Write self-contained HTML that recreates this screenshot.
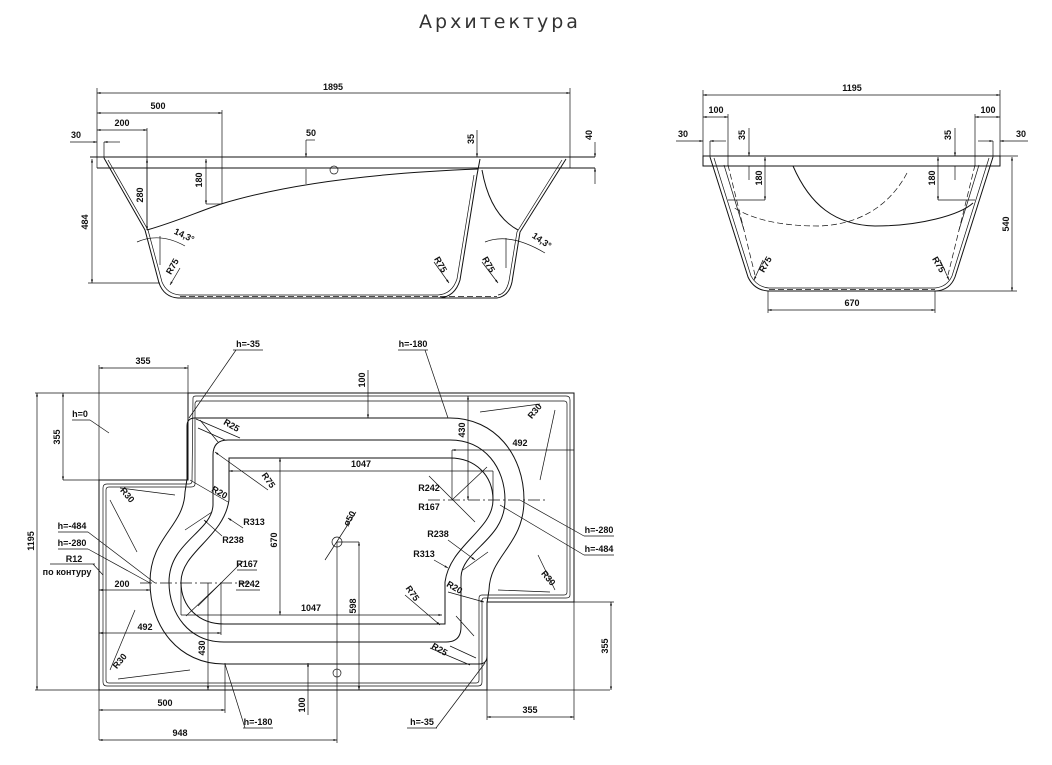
<!DOCTYPE html>
<html><head><meta charset="utf-8"><style>
html,body{margin:0;padding:0;background:#fff;}
svg{display:block}
text{font-family:"Liberation Sans Narrow","Liberation Sans",sans-serif;font-size:9px;font-weight:bold;fill:#111}
.l{stroke:#111;stroke-width:1;fill:none}
.t{stroke:#111;stroke-width:0.7;fill:none}
.d{stroke:#111;stroke-width:0.7;fill:none;stroke-dasharray:6 3}
.c{stroke:#111;stroke-width:0.7;fill:none;stroke-dasharray:12 3 2 3}
</style></head><body>
<svg width="1052" height="765" viewBox="0 0 1052 765" xmlns="http://www.w3.org/2000/svg">
<defs>
<marker id="a" viewBox="0 0 10 10" refX="10" refY="5" markerWidth="7" markerHeight="5" orient="auto-start-reverse"><path d="M0,2 L10,5 L0,8z" fill="#111"/></marker>
</defs>
<text x="500" y="28" text-anchor="middle" style="font-family:'DejaVu Sans',sans-serif;font-size:19px;font-weight:normal;letter-spacing:3px;fill:#333">Архитектура</text>

<!-- ============ FRONT SIDE VIEW ============ -->
<g>
<line class="l" x1="90" y1="157" x2="595" y2="157"/>
<line class="l" x1="97" y1="168" x2="595" y2="168"/>
<line class="t" x1="97" y1="157" x2="97" y2="168"/>
<line class="t" x1="570" y1="157" x2="570" y2="168"/>
<path class="l" d="M104,158 L145,230 L159,283 Q164,297 178,298 L439,298 Q455,297 460,280 L477,175 L480,159"/>
<path class="t" d="M108,160 L148,230 L162,282 Q167,294 180,295 L438,295 Q452,294 457,279 L474,175"/>
<path class="d" d="M180,296.5 L438,296.5"/>
<path class="l" d="M439,298 L497,298 Q509,296 512,282 L520,232 L566,159"/>
<path class="t" d="M498,295 Q506,294 509,281 L517,232 L562,160"/>
<path class="d" d="M440,296.5 L497,296.5"/>
<path class="l" d="M482,170 Q490,215 518,230"/>
<path class="l" d="M147,230 C175,222 195,213 221,204 C300,180 400,172 478,169"/>
<line class="t" x1="97" y1="88" x2="97" y2="157"/>
<line class="t" x1="570" y1="88" x2="570" y2="157"/>
<line class="t" x1="97" y1="93" x2="570" y2="93" marker-start="url(#a)" marker-end="url(#a)"/>
<text x="333" y="90" text-anchor="middle">1895</text>
<line class="t" x1="97" y1="113" x2="222" y2="113" marker-start="url(#a)" marker-end="url(#a)"/>
<line class="t" x1="222" y1="110" x2="222" y2="204"/>
<text x="158" y="109" text-anchor="middle">500</text>
<line class="t" x1="97" y1="130" x2="147" y2="130" marker-start="url(#a)" marker-end="url(#a)"/>
<line class="t" x1="147" y1="128" x2="147" y2="230"/>
<text x="122" y="126" text-anchor="middle">200</text>
<line class="t" x1="147" y1="159" x2="147" y2="230" marker-start="url(#a)" marker-end="url(#a)"/>
<text transform="translate(143,195) rotate(-90)" text-anchor="middle">280</text>
<line class="t" x1="206" y1="159" x2="206" y2="204" marker-start="url(#a)" marker-end="url(#a)"/>
<line class="t" x1="206" y1="204" x2="222" y2="204"/>
<text transform="translate(202,180) rotate(-90)" text-anchor="middle">180</text>
<line class="t" x1="88" y1="283" x2="160" y2="283"/>
<line class="t" x1="92" y1="159" x2="92" y2="283" marker-start="url(#a)" marker-end="url(#a)"/>
<text transform="translate(88,222) rotate(-90)" text-anchor="middle">484</text>
<line class="t" x1="70" y1="142" x2="97" y2="142" marker-end="url(#a)"/>
<line class="t" x1="120" y1="142" x2="104" y2="142" marker-end="url(#a)"/>
<line class="t" x1="104" y1="142" x2="104" y2="158"/>
<text x="76" y="138" text-anchor="middle">30</text>
<line class="t" x1="306" y1="140" x2="306" y2="157" marker-end="url(#a)"/>
<line class="t" x1="306" y1="140" x2="315" y2="140"/>
<line class="t" x1="306" y1="169" x2="306" y2="184"/>
<text x="311" y="136" text-anchor="middle">50</text>
<circle class="t" cx="334" cy="170" r="4"/>
<line class="t" x1="477" y1="130" x2="477" y2="157" marker-end="url(#a)"/>
<text transform="translate(474,139) rotate(-90)" text-anchor="middle">35</text>
<line class="t" x1="595" y1="142" x2="595" y2="157" marker-end="url(#a)"/>
<line class="t" x1="595" y1="184" x2="595" y2="168" marker-end="url(#a)"/>
<text transform="translate(592,135) rotate(-90)" text-anchor="middle">40</text>
<path class="t" d="M137,242 Q160,232 185,246"/>
<line class="t" x1="160" y1="236" x2="160" y2="265"/>
<text transform="translate(183,238) rotate(25)" text-anchor="middle">14,3°</text>
<path class="t" d="M485,242 Q510,232 545,253"/>
<line class="t" x1="506" y1="238" x2="506" y2="268"/>
<text transform="translate(540,243) rotate(35)" text-anchor="middle">14,3°</text>
<line class="t" x1="180" y1="268" x2="170" y2="285" marker-end="url(#a)"/>
<text transform="translate(175,268) rotate(-60)" text-anchor="middle">R75</text>
<line class="t" x1="434" y1="262" x2="449" y2="283" marker-end="url(#a)"/>
<text transform="translate(438,266) rotate(60)" text-anchor="middle">R75</text>
<line class="t" x1="482" y1="262" x2="498" y2="283" marker-end="url(#a)"/>
<text transform="translate(486,266) rotate(60)" text-anchor="middle">R75</text>
</g>

<!-- ============ END SIDE VIEW ============ -->
<g>
<rect class="l" x="703" y="156" width="297" height="10"/>
<line class="t" x1="1000" y1="156" x2="1018" y2="156"/>
<path class="l" d="M710,157 L748,277 Q754,290 768,291 L936,291 Q950,290 955,277 L993,157"/>
<path class="t" d="M714,158 L751,276 Q757,287 769,288 L935,288 Q947,287 952,276 L989,158"/>
<path class="d" d="M728,165 L755,275"/>
<path class="d" d="M975,165 L948,275"/>
<path class="t" d="M724,165 L744,230"/>
<path class="t" d="M979,165 L959,230"/>
<path class="d" d="M769,289.5 L935,289.5"/>
<path class="l" d="M793,166 C810,205 835,225 875,226 C920,226 960,215 973,203"/>
<path class="d" d="M907,173 C890,205 860,225 818,226 C770,226 745,215 733,207"/>
<line class="t" x1="703" y1="90" x2="703" y2="156"/>
<line class="t" x1="1000" y1="90" x2="1000" y2="156"/>
<line class="t" x1="703" y1="95" x2="1000" y2="95" marker-start="url(#a)" marker-end="url(#a)"/>
<text x="852" y="91" text-anchor="middle">1195</text>
<line class="t" x1="728" y1="114" x2="728" y2="166"/>
<line class="t" x1="703" y1="117" x2="728" y2="117" marker-start="url(#a)" marker-end="url(#a)"/>
<text x="716" y="113" text-anchor="middle">100</text>
<line class="t" x1="975" y1="114" x2="975" y2="166"/>
<line class="t" x1="975" y1="117" x2="1000" y2="117" marker-start="url(#a)" marker-end="url(#a)"/>
<text x="988" y="113" text-anchor="middle">100</text>
<line class="t" x1="676" y1="141" x2="703" y2="141" marker-end="url(#a)"/>
<line class="t" x1="726" y1="141" x2="710" y2="141" marker-end="url(#a)"/>
<line class="t" x1="710" y1="141" x2="710" y2="157"/>
<text x="683" y="137" text-anchor="middle">30</text>
<line class="t" x1="1028" y1="141" x2="1000" y2="141" marker-end="url(#a)"/>
<line class="t" x1="978" y1="141" x2="993" y2="141" marker-end="url(#a)"/>
<line class="t" x1="993" y1="141" x2="993" y2="157"/>
<text x="1021" y="137" text-anchor="middle">30</text>
<line class="t" x1="749" y1="128" x2="749" y2="156" marker-end="url(#a)"/>
<line class="t" x1="749" y1="166" x2="749" y2="180"/>
<text transform="translate(745,135) rotate(-90)" text-anchor="middle">35</text>
<line class="t" x1="955" y1="128" x2="955" y2="156" marker-end="url(#a)"/>
<line class="t" x1="955" y1="166" x2="955" y2="180"/>
<text transform="translate(951,135) rotate(-90)" text-anchor="middle">35</text>
<line class="t" x1="765" y1="157" x2="765" y2="200" marker-start="url(#a)" marker-end="url(#a)"/>
<line class="t" x1="728" y1="200" x2="765" y2="200"/>
<text transform="translate(762,178) rotate(-90)" text-anchor="middle">180</text>
<line class="t" x1="938" y1="157" x2="938" y2="200" marker-start="url(#a)" marker-end="url(#a)"/>
<line class="t" x1="938" y1="200" x2="975" y2="200"/>
<text transform="translate(935,178) rotate(-90)" text-anchor="middle">180</text>
<line class="t" x1="936" y1="291" x2="1017" y2="291"/>
<line class="t" x1="1012" y1="157" x2="1012" y2="291" marker-start="url(#a)" marker-end="url(#a)"/>
<text transform="translate(1009,224) rotate(-90)" text-anchor="middle">540</text>
<line class="t" x1="768" y1="291" x2="768" y2="313"/>
<line class="t" x1="935" y1="291" x2="935" y2="313"/>
<line class="t" x1="768" y1="310" x2="935" y2="310" marker-start="url(#a)" marker-end="url(#a)"/>
<text x="852" y="306" text-anchor="middle">670</text>
<line class="t" x1="763" y1="260" x2="754" y2="280" marker-end="url(#a)"/>
<text transform="translate(768,266) rotate(-60)" text-anchor="middle">R75</text>
<line class="t" x1="940" y1="260" x2="949" y2="280" marker-end="url(#a)"/>
<text transform="translate(936,266) rotate(60)" text-anchor="middle">R75</text>
</g>

<!-- ============ PLAN VIEW ============ -->
<g>
<path class="l" d="M188,393 L574,393 L574,602 L487,602 L487,690 L99,690 L99,480 L188,480 Z"/>
<path class="t" d="M193,398 Q193,396 196,396 L566,396 Q570,396 570,400 L570,595 Q570,598 566,598 L484,598 Q482,598 482,601 L482,682 Q482,686 478,686 L107,686 Q103,686 103,682 L103,488 Q103,484 107,484 L189,484 Q192,484 192,481 Z"/>
<path class="t" d="M196,401 L564,401 Q567,401 567,404 L567,592 Q567,595 564,595 L482,595 Q479,595 479,598 L479,680 Q479,683 476,683 L109,683 Q106,683 106,680 L106,490 Q106,487 109,487 L191,487 Q195,487 195,484 L195,404 Q195,401 198,401"/>
<path class="l" d="M187,480 L187,426 Q187,418 195,418 L450,418 C495,418 524,455 524,500 C524,545 490,555 489,590 L487,603"/>
<path class="l" transform="rotate(180 337 541)" d="M187,480 L187,426 Q187,418 195,418 L450,418 C495,418 524,455 524,500 C524,545 490,555 489,590 L487,603"/>
<path class="l" d="M213,505 L213,455 Q213,440 228,440 L450,440 C485,440 505,468 505,500 C505,540 462,550 461,577"/>
<path class="l" transform="rotate(180 337 541)" d="M213,505 L213,455 Q213,440 228,440 L450,440 C485,440 505,468 505,500 C505,540 462,550 461,577"/>
<path class="l" d="M229,500 L229,458 L450,458 C475,458 493,475 493,500 C493,530 450,545 445,582"/>
<path class="l" transform="rotate(180 337 541)" d="M229,500 L229,458 L450,458 C475,458 493,475 493,500 C493,530 450,545 445,582"/>
<g class="t">
<line x1="480" y1="412" x2="540" y2="404"/><line x1="555" y1="410" x2="540" y2="480"/>
<line x1="538" y1="555" x2="555" y2="590"/><line x1="498" y1="590" x2="550" y2="592"/>
<line x1="120" y1="488" x2="175" y2="495"/><line x1="110" y1="500" x2="137" y2="552"/>
<line x1="135" y1="610" x2="110" y2="670"/><line x1="118" y1="679" x2="190" y2="670"/>
<line x1="200" y1="420" x2="218" y2="442"/><line x1="212" y1="512" x2="185" y2="530"/>
<line x1="474" y1="636" x2="456" y2="616"/><line x1="463" y1="570" x2="488" y2="552"/>
<line x1="198" y1="428" x2="225" y2="440"/><line x1="476" y1="658" x2="450" y2="646"/>
</g>
<line class="c" x1="428" y1="500" x2="545" y2="500"/>
<line class="c" x1="140" y1="583" x2="250" y2="583"/>
<line class="t" x1="429" y1="476" x2="475" y2="522"/>
<line class="t" x1="452" y1="500" x2="487" y2="467"/>
<line class="t" x1="198" y1="606" x2="243" y2="561"/>
<line class="t" x1="221" y1="583" x2="186" y2="616"/>
<circle class="t" cx="337" cy="542" r="5"/>
<circle class="t" cx="337" cy="673" r="4"/>
<line class="t" x1="325" y1="560" x2="356" y2="512"/>
<text transform="translate(352,520) rotate(-60)" text-anchor="middle">ø50</text>
<line class="t" x1="337" y1="542" x2="337" y2="743"/>
<line class="t" x1="337" y1="542" x2="359" y2="542"/>
<line class="t" x1="359" y1="542" x2="359" y2="690" marker-start="url(#a)" marker-end="url(#a)"/>
<text transform="translate(356,606) rotate(-90)" text-anchor="middle">598</text>
<line class="t" x1="99" y1="365" x2="99" y2="740"/>
<line class="t" x1="188" y1="365" x2="188" y2="393"/>
<line class="t" x1="99" y1="368" x2="188" y2="368" marker-start="url(#a)" marker-end="url(#a)"/>
<text x="143" y="364" text-anchor="middle">355</text>
<line class="t" x1="35" y1="393" x2="188" y2="393"/>
<line class="t" x1="35" y1="690" x2="610" y2="690"/>
<line class="t" x1="37" y1="393" x2="37" y2="690" marker-start="url(#a)" marker-end="url(#a)"/>
<text transform="translate(34,541) rotate(-90)" text-anchor="middle">1195</text>
<line class="t" x1="63" y1="393" x2="63" y2="480" marker-start="url(#a)" marker-end="url(#a)"/>
<line class="t" x1="63" y1="480" x2="188" y2="480"/>
<text transform="translate(60,437) rotate(-90)" text-anchor="middle">355</text>
<text x="80" y="417" text-anchor="middle">h=0</text>
<line class="t" x1="72" y1="420" x2="90" y2="420"/><line class="t" x1="90" y1="420" x2="109" y2="433"/>
<line class="t" x1="368" y1="370" x2="368" y2="418" marker-end="url(#a)"/>
<text transform="translate(365,380) rotate(-90)" text-anchor="middle">100</text>
<text x="248" y="347" text-anchor="middle">h=-35</text>
<line class="t" x1="233" y1="350" x2="263" y2="350"/><line class="t" x1="236" y1="350" x2="189" y2="418"/>
<text x="413" y="347" text-anchor="middle">h=-180</text>
<line class="t" x1="398" y1="350" x2="428" y2="350"/><line class="t" x1="425" y1="350" x2="448" y2="418"/>
<line class="t" x1="468" y1="396" x2="468" y2="500" marker-start="url(#a)" marker-end="url(#a)"/>
<text transform="translate(465,430) rotate(-90)" text-anchor="middle">430</text>
<line class="t" x1="452" y1="450" x2="574" y2="450" marker-start="url(#a)"/>
<line class="t" x1="452" y1="450" x2="452" y2="500"/>
<text x="520" y="446" text-anchor="middle">492</text>
<line class="t" x1="229" y1="471" x2="493" y2="471" marker-start="url(#a)"/>
<line class="t" x1="493" y1="471" x2="493" y2="500"/>
<text x="361" y="467" text-anchor="middle">1047</text>
<line class="t" x1="280" y1="458" x2="280" y2="615" marker-start="url(#a)" marker-end="url(#a)"/>
<text transform="translate(277,540) rotate(-90)" text-anchor="middle">670</text>
<line class="t" x1="181" y1="615" x2="442" y2="615" marker-end="url(#a)"/>
<line class="t" x1="181" y1="583" x2="181" y2="615"/>
<text x="311" y="611" text-anchor="middle">1047</text>
<line class="t" x1="99" y1="590" x2="150" y2="590" marker-start="url(#a)" marker-end="url(#a)"/>
<text x="122" y="587" text-anchor="middle">200</text>
<line class="t" x1="99" y1="633" x2="221" y2="633" marker-start="url(#a)" marker-end="url(#a)"/>
<line class="t" x1="221" y1="583" x2="221" y2="635"/>
<text x="145" y="630" text-anchor="middle">492</text>
<line class="t" x1="208" y1="583" x2="208" y2="690" marker-end="url(#a)"/>
<text transform="translate(205,648) rotate(-90)" text-anchor="middle">430</text>
<line class="t" x1="225" y1="663" x2="225" y2="713"/>
<line class="t" x1="99" y1="710" x2="225" y2="710" marker-start="url(#a)" marker-end="url(#a)"/>
<text x="165" y="706" text-anchor="middle">500</text>
<line class="t" x1="99" y1="740" x2="337" y2="740" marker-start="url(#a)" marker-end="url(#a)"/>
<text x="180" y="736" text-anchor="middle">948</text>
<line class="t" x1="308" y1="715" x2="308" y2="663" marker-end="url(#a)"/>
<text transform="translate(305,705) rotate(-90)" text-anchor="middle">100</text>
<text x="258" y="725" text-anchor="middle">h=-180</text>
<line class="t" x1="243" y1="728" x2="273" y2="728"/><line class="t" x1="245" y1="728" x2="225" y2="664"/>
<text x="422" y="725" text-anchor="middle">h=-35</text>
<line class="t" x1="407" y1="728" x2="437" y2="728"/><line class="t" x1="436" y1="728" x2="485" y2="663"/>
<line class="t" x1="487" y1="690" x2="487" y2="720"/>
<line class="t" x1="574" y1="602" x2="574" y2="720"/>
<line class="t" x1="487" y1="717" x2="574" y2="717" marker-start="url(#a)" marker-end="url(#a)"/>
<text x="530" y="713" text-anchor="middle">355</text>
<line class="t" x1="574" y1="602" x2="614" y2="602"/>
<line class="t" x1="611" y1="602" x2="611" y2="690" marker-start="url(#a)" marker-end="url(#a)"/>
<text transform="translate(608,646) rotate(-90)" text-anchor="middle">355</text>
<text x="429" y="491" text-anchor="middle">R242</text>
<text x="429" y="510" text-anchor="middle">R167</text>
<text x="599" y="533" text-anchor="middle">h=-280</text>
<line class="t" x1="584" y1="536" x2="614" y2="536"/><line class="t" x1="584" y1="536" x2="520" y2="500"/>
<text x="599" y="552" text-anchor="middle">h=-484</text>
<line class="t" x1="584" y1="555" x2="614" y2="555"/><line class="t" x1="584" y1="555" x2="500" y2="505"/>
<text x="438" y="537" text-anchor="middle">R238</text>
<line class="t" x1="448" y1="540" x2="475" y2="560" marker-end="url(#a)"/>
<text x="424" y="557" text-anchor="middle">R313</text>
<line class="t" x1="434" y1="560" x2="448" y2="568" marker-end="url(#a)"/>
<text transform="translate(453,590) rotate(30)" text-anchor="middle">R20</text>
<line class="t" x1="448" y1="592" x2="484" y2="602" marker-end="url(#a)"/>
<text transform="translate(410,595) rotate(55)" text-anchor="middle">R75</text>
<line class="t" x1="405" y1="595" x2="440" y2="625" marker-end="url(#a)"/>
<text transform="translate(438,652) rotate(30)" text-anchor="middle">R25</text>
<line class="t" x1="430" y1="648" x2="470" y2="665"/>
<text transform="translate(537,413) rotate(-50)" text-anchor="middle">R30</text>
<text transform="translate(546,580) rotate(50)" text-anchor="middle">R30</text>
<text x="72" y="529" text-anchor="middle">h=-484</text>
<line class="t" x1="58" y1="532" x2="88" y2="532"/><line class="t" x1="88" y1="532" x2="155" y2="583"/>
<text x="72" y="546" text-anchor="middle">h=-280</text>
<line class="t" x1="58" y1="549" x2="88" y2="549"/><line class="t" x1="88" y1="549" x2="150" y2="583"/>
<text x="74" y="562" text-anchor="middle">R12</text>
<line class="t" x1="50" y1="564" x2="95" y2="564"/><line class="t" x1="93" y1="564" x2="103" y2="575"/>
<text x="67" y="575" text-anchor="middle">по контуру</text>
<text x="247" y="567" text-anchor="middle">R167</text>
<line class="t" x1="237" y1="570" x2="257" y2="570"/>
<text x="249" y="587" text-anchor="middle">R242</text>
<line class="t" x1="236" y1="590" x2="260" y2="590"/>
<text x="254" y="525" text-anchor="middle">R313</text>
<line class="t" x1="243" y1="528" x2="228" y2="518" marker-end="url(#a)"/>
<text x="233" y="543" text-anchor="middle">R238</text>
<line class="t" x1="222" y1="536" x2="204" y2="520" marker-end="url(#a)"/>
<text transform="translate(218,495) rotate(30)" text-anchor="middle">R20</text>
<line class="t" x1="228" y1="502" x2="190" y2="480"/>
<text transform="translate(266,482) rotate(55)" text-anchor="middle">R75</text>
<line class="t" x1="268" y1="490" x2="215" y2="452" marker-end="url(#a)"/>
<text transform="translate(230,428) rotate(30)" text-anchor="middle">R25</text>
<line class="t" x1="240" y1="438" x2="196" y2="419"/>
<text transform="translate(125,497) rotate(50)" text-anchor="middle">R30</text>
<text transform="translate(122,663) rotate(-50)" text-anchor="middle">R30</text>
</g>
</svg>
</body></html>
